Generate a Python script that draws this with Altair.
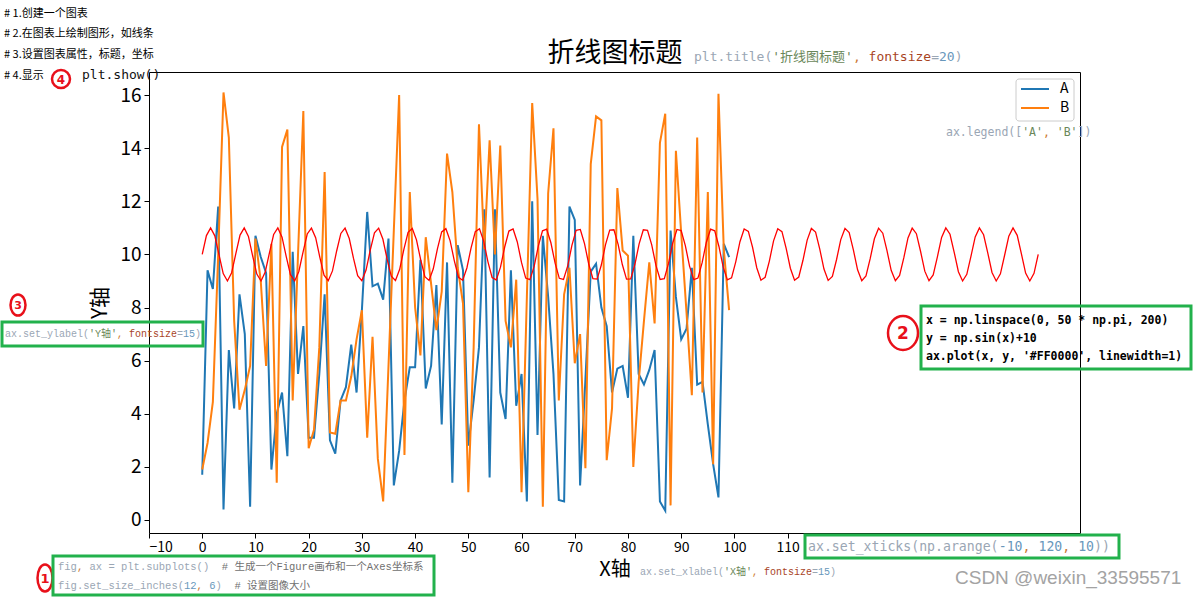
import altair as alt
import numpy as np
import pandas as pd

# ---------------- data ----------------
idx = list(range(100))
a_values = [1.7, 9.4, 8.7, 11.8, 0.4, 6.4, 4.2, 8.5, 7.0, 0.5,
            10.7, 9.9, 9.3, 1.9, 4.0, 4.8, 2.4, 10.1, 5.5, 7.3,
            3.1, 3.1, 5.5, 8.5, 3.0, 2.5, 4.5, 5.0, 6.6, 4.8,
            7.9, 11.6, 8.8, 8.9, 8.3, 10.6, 1.3, 2.6, 4.5, 5.75,
            5.75, 9.8, 4.95, 5.8, 8.85, 3.6, 9.7, 1.4, 10.35, 9.4,
            2.8, 4.5, 6.5, 11.7, 1.6, 11.7, 4.8, 3.8, 9.4, 4.3,
            5.5, 0.7, 12.0, 3.2, 10.7, 8.4, 5.5, 0.75, 0.7, 11.8,
            11.3, 1.3, 5.3, 9.35, 9.65, 8.0, 7.3, 4.8, 5.7, 5.8,
            4.6, 10.7, 5.5, 5.1, 5.65, 6.4, 0.7, 0.35, 10.9, 8.4,
            6.8, 7.2, 9.5, 5.1, 5.2, 3.6, 2.1, 0.85, 10.4, 9.9]
b_values = [1.9, 2.9, 4.45, 10.0, 16.1, 14.4, 7.5, 4.15, 4.9, 5.8,
            10.6, 9.0, 5.8, 10.4, 1.4, 14.05, 14.7, 4.5, 10.0, 15.4,
            2.7, 3.4, 6.5, 13.1, 3.3, 3.25, 4.5, 4.5, 5.4, 6.8,
            7.9, 3.1, 6.9, 2.3, 0.7, 5.8, 10.9, 16.0, 2.45, 12.35,
            8.0, 6.2, 10.65, 8.9, 7.15, 8.6, 13.8, 12.35, 9.5, 8.15,
            1.05, 6.5, 14.9, 10.2, 14.3, 10.0, 14.1, 7.5, 6.5, 9.05,
            1.05, 8.4, 15.7, 12.1, 0.5, 12.3, 14.75, 4.5, 8.5, 9.5,
            5.9, 7.0, 1.95, 13.4, 15.2, 15.05, 2.25, 4.2, 12.5, 10.15,
            9.95, 2.0, 5.2, 7.5, 9.7, 7.4, 14.2, 15.3, 0.55, 13.9,
            10.8, 7.8, 4.7, 14.4, 4.8, 12.35, 2.1, 16.05, 10.2, 7.9]
red_x = np.linspace(0, 50 * np.pi, 200)
red_y = [10.00, 10.71, 11.00, 10.70, 9.98, 9.28, 9.00, 9.31,
         10.03, 10.73, 11.00, 10.68, 9.95, 9.26, 9.00, 9.34,
         10.06, 10.75, 11.00, 10.65, 9.92, 9.24, 9.00, 9.36,
         10.09, 10.77, 10.99, 10.63, 9.89, 9.22, 9.01, 9.38,
         10.13, 10.79, 10.99, 10.60, 9.86, 9.20, 9.01, 9.41,
         10.16, 10.81, 10.99, 10.58, 9.83, 9.18, 9.02, 9.44,
         10.19, 10.83, 10.98, 10.55, 9.80, 9.16, 9.02, 9.46,
         10.22, 10.85, 10.97, 10.52, 9.77, 9.14, 9.03, 9.49,
         10.25, 10.86, 10.97, 10.50, 9.73, 9.13, 9.04, 9.52,
         10.28, 10.88, 10.96, 10.47, 9.70, 9.11, 9.05, 9.54,
         10.31, 10.89, 10.95, 10.44, 9.67, 9.10, 9.06, 9.57,
         10.34, 10.91, 10.94, 10.41, 9.64, 9.09, 9.07, 9.60,
         10.37, 10.92, 10.93, 10.38, 9.62, 9.07, 9.08, 9.63,
         10.40, 10.93, 10.91, 10.36, 9.59, 9.06, 9.09, 9.66,
         10.43, 10.94, 10.90, 10.33, 9.56, 9.05, 9.11, 9.69,
         10.46, 10.95, 10.89, 10.30, 9.53, 9.04, 9.12, 9.72,
         10.48, 10.96, 10.87, 10.27, 9.50, 9.03, 9.14, 9.75,
         10.51, 10.97, 10.86, 10.23, 9.48, 9.03, 9.15, 9.78,
         10.54, 10.98, 10.84, 10.20, 9.45, 9.02, 9.17, 9.81,
         10.56, 10.98, 10.82, 10.17, 9.42, 9.01, 9.19, 9.84,
         10.59, 10.99, 10.80, 10.14, 9.40, 9.01, 9.21, 9.87,
         10.62, 10.99, 10.78, 10.11, 9.37, 9.01, 9.23, 9.91,
         10.64, 11.00, 10.76, 10.08, 9.35, 9.00, 9.25, 9.94,
         10.66, 11.00, 10.74, 10.05, 9.32, 9.00, 9.27, 9.97,
         10.69, 11.00, 10.72, 10.02, 9.30, 9.00, 9.29, 10.00]
x_ticks = list(range(-10, 120, 10))
y_ticks = list(range(0, 18, 2))
legend_labels = ["A", "B"]

# ---------------- layout ----------------
OX, OY = 149, 72           # plot area origin in the page
W, H = 931, 461
XDOM = [-10, 164.93]
YDOM = [-0.49, 16.87]

CJK = "Noto Sans CJK SC"
MONO = "DejaVu Sans Mono, Noto Sans CJK SC"
SERIFMONO = "Liberation Mono, Noto Sans CJK SC"
G = "#9aa6b4"
GREEN = "#6a8759"
ORANGE = "#cc7832"
BROWN = "#a8441f"
BLUE = "#6897bb"
COMMENT = "#707070"
BOXGREEN = "#22b14c"

dummy = pd.DataFrame({"d": [0]})

xscale = alt.Scale(domain=XDOM, nice=False, zero=False)
yscale = alt.Scale(domain=YDOM, nice=False, zero=False)
xaxis = alt.Axis(values=x_ticks, title=None, grid=False, domain=False,
                 tickSize=5, tickColor="black", labelColor="black",
                 labelFontSize=14, labelFont=CJK, labelPadding=2)
yaxis = alt.Axis(values=y_ticks, title=None, grid=False, domain=False,
                 tickSize=5, tickColor="black", labelColor="black",
                 labelFontSize=19, labelFont=CJK, labelPadding=3)

df_a = pd.DataFrame({"x": idx, "y": a_values})
df_b = pd.DataFrame({"x": idx, "y": b_values})
df_r = pd.DataFrame({"x": red_x, "y": red_y})

line_a = alt.Chart(df_a).mark_line(color="#1f77b4", strokeWidth=2).encode(
    x=alt.X("x:Q", scale=xscale, axis=xaxis), y=alt.Y("y:Q", scale=yscale, axis=yaxis))
line_b = alt.Chart(df_b).mark_line(color="#ff7f0e", strokeWidth=2).encode(
    x=alt.X("x:Q", scale=xscale, axis=xaxis), y=alt.Y("y:Q", scale=yscale, axis=yaxis))
line_r = alt.Chart(df_r).mark_line(color="#ff0000", strokeWidth=1.3).encode(
    x=alt.X("x:Q", scale=xscale, axis=xaxis), y=alt.Y("y:Q", scale=yscale, axis=yaxis))

layers = [line_a, line_b, line_r]


def txt(s, X, Y, size, color, font=CJK, weight="normal", align="left", angle=0):
    return alt.Chart(dummy).mark_text(
        text=s, fontSize=size, color=color, font=font, fontWeight=weight,
        align=align, baseline="middle", angle=angle
    ).encode(x=alt.value(X - OX), y=alt.value(Y - OY))


def code(segs, X, Y, size, font=MONO, adv=0.602, weight="normal"):
    out = []
    cx = X
    for s, c in segs:
        lead = len(s) - len(s.lstrip(" "))
        cx += lead * size * adv
        body = s.lstrip(" ")
        if body:
            out.append(txt(body, cx, Y, size, c, font, weight))
        for ch in body:
            cx += size if ord(ch) > 0x2E80 else size * adv
    return out


def box(x1, y1, x2, y2):
    return alt.Chart(dummy).mark_rect(fillOpacity=0, stroke=BOXGREEN, strokeWidth=3).encode(
        x=alt.value(x1 - OX), x2=alt.value(x2 - OX), y=alt.value(y1 - OY), y2=alt.value(y2 - OY))


def ring(cx, cy, w, h, label, fsize):
    a = w / h
    path = f"M {-a} 0 A {a} 1 0 1 0 {a} 0 A {a} 1 0 1 0 {-a} 0 Z"
    r = alt.Chart(dummy).mark_point(shape=path, size=h * h, filled=False,
                                    stroke="#e8101a", strokeWidth=2.5, opacity=1).encode(
        x=alt.value(cx - OX), y=alt.value(cy - OY))
    t = txt(label, cx, cy + 1, fsize, "#e8101a", "DejaVu Sans", "bold", "center")
    return [r, t]


# legend (drawn by hand, matplotlib style)
layers.append(alt.Chart(dummy).mark_rect(fill="white", fillOpacity=0.8, stroke="#cccccc",
                                         strokeWidth=1, cornerRadius=3).encode(
    x=alt.value(1016 - OX), x2=alt.value(1074 - OX), y=alt.value(79 - OY), y2=alt.value(121 - OY)))
for lab, col, yy in zip(legend_labels, ["#1f77b4", "#ff7f0e"], [89, 108]):
    layers.append(alt.Chart(dummy).mark_rule(color=col, strokeWidth=2).encode(
        x=alt.value(1021 - OX), x2=alt.value(1049 - OX), y=alt.value(yy - OY)))
    layers.append(txt(lab, 1060, yy, 14, "black"))

# titles
layers.append(txt("折线图标题", 615, 54, 27, "black", align="center"))
layers.append(txt("Y轴", 101, 303, 21, "black", align="center", angle=270))
layers.append(txt("X轴", 615, 570, 20, "black", align="center"))

# top-left comments
for s, yy in [("# 1.创建一个图表", 14), ("# 2.在图表上绘制图形，如线条", 34),
              ("# 3.设置图表属性，标题，坐标", 55), ("# 4.显示", 76)]:
    layers.append(txt(s, 4, yy, 11, "black"))
layers += ring(61, 79, 18, 18, "4", 12)
layers.append(txt("plt.show()", 82, 75, 13, "#111111", MONO))

# code annotations
layers += code([("plt.title(", G), ("'折线图标题'", GREEN), (",", ORANGE), (" fontsize", BROWN),
                ("=", G), ("20", BLUE), (")", G)], 694, 57, 13)
layers += code([("ax.legend([", G), ("'A'", GREEN), (",", ORANGE), (" 'B'", GREEN), ("])", G)],
               946, 133, 11.5)

layers += ring(18, 305, 15, 21, "3", 11)
layers.append(box(2, 322, 203, 346))
layers += code([("ax.set_ylabel(", G), ("'Y轴'", GREEN), (",", ORANGE), (" fontsize", BROWN),
                ("=", G), ("15", BLUE), (")", G)], 5, 334, 10, SERIFMONO, 0.6)

layers += ring(903, 333, 30, 34, "2", 17)
layers.append(box(921, 306, 1191, 369))
for s, yy in [("x = np.linspace(0, 50 * np.pi, 200)", 321),
              ("y = np.sin(x)+10", 339),
              ("ax.plot(x, y, '#FF0000', linewidth=1)", 357)]:
    layers.append(txt(s, 926, yy, 11.5, "black", MONO, "bold"))

layers.append(box(805, 535, 1119, 558))
layers += code([("ax.set_xticks(np.arange(", G), ("-10", BLUE), (",", ORANGE), (" 120", BLUE),
                (",", ORANGE), (" 10", BLUE), ("))", G)], 808, 547, 13.2)

layers += code([("ax.set_xlabel(", G), ("'X轴'", GREEN), (",", ORANGE), (" fontsize", BROWN),
                ("=", G), ("15", BLUE), (")", G)], 640, 572, 10, SERIFMONO, 0.6)

layers += ring(45, 578, 15, 27, "1", 13)
layers.append(box(53, 556, 434, 595))
layers += code([("fig", G), (",", ORANGE), (" ax = plt.subplots()", G),
                ("  # 生成一个Figure画布和一个Axes坐标系", COMMENT)], 58, 567, 10.5, SERIFMONO, 0.6)
layers += code([("fig.set_size_inches(", G), ("12", BLUE), (",", ORANGE), (" 6", BLUE), (")", G),
                ("  # 设置图像大小", COMMENT)], 58, 586, 10.5, SERIFMONO, 0.6)

layers.append(txt("CSDN @weixin_33595571", 955, 578, 19, "#a3a3a3", "Liberation Sans"))

chart = alt.layer(*layers).properties(
    width=W, height=H,
    autosize=alt.AutoSizeParams(type="none"),
    padding={"left": OX, "top": OY, "right": 1200 - OX - W, "bottom": 597 - OY - H},
    background="white",
).configure_view(stroke="black", strokeWidth=1)

chart.save("out.html", embed_options={"renderer": "svg", "actions": False})
